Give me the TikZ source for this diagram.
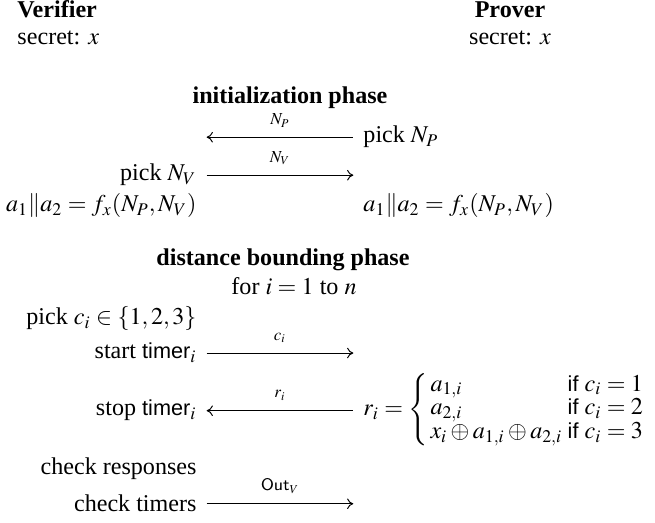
\documentclass[tikz,border=0pt]{standalone}
\usepackage{amsmath}
\usepackage{mathptmx}
\usepackage{fontspec}
\setmainfont{Liberation Serif}
\setsansfont{Liberation Sans}[Scale=0.9]
\usepackage{tikz}
\usetikzlibrary{arrows.meta, positioning, calc}
\tikzset{
  vtext/.style={anchor=base east, inner sep=0pt},
  ptext/.style={anchor=base west, inner sep=0pt},
  head/.style={anchor=base, inner sep=0pt, font=\bfseries},
  phase/.style={anchor=base, inner sep=0pt, font=\bfseries},
  msgR/.style={-{To[length=2.6pt,width=4.4pt]}, line width=0.4pt,
    shorten <=4pt, shorten >=4pt},
  msgL/.style={{To[length=2.6pt,width=4.4pt]}-, line width=0.4pt,
    shorten <=4pt, shorten >=4pt},
  msglbl/.style={midway, above=4pt, inner sep=0pt, font=\scriptsize}
}

\begin{document}
\begin{tikzpicture}[x=0.415pt, y=-0.415pt]
  \useasboundingbox (0,0) rectangle (655,523);

  % Columns
  \coordinate (vcol) at (197,0);
  \coordinate (pcol) at (363,0);

  % Parties
  \node[anchor=base west, inner sep=0pt, font=\bfseries] (ver) at (17,18) {Verifier};
  \node[anchor=base west, inner sep=0pt] (versec) at (17,45) {secret: $x$};
  \node[head] (prv) at (510,18) {Prover};
  \node[anchor=base, inner sep=0pt] (prvsec) at (510,45) {secret: $x$};

  % Initialization phase
  \node[phase] (init) at (290,104) {initialization phase};
  \node[ptext] (pickNP) at (363,143) {pick $N_P$};
  \draw[msgL] (pickNP.west -| vcol) -- (pickNP.west) node[msglbl] {$N_P$};
  \node[vtext] (pickNV) at (197,181) {pick $N_V$};
  \draw[msgR] (pickNV.east) -- (pickNV.east -| pcol) node[msglbl] {$N_V$};
  \node[vtext] (keyV) at (197,212) {$a_1\|a_2 = f_x(N_P,N_V)$};
  \node[ptext] (keyP) at (363,212) {$a_1\|a_2 = f_x(N_P,N_V)$};

  % Distance bounding phase
  \node[phase] (dist) at (283,266) {distance bounding phase};
  \node[anchor=base, inner sep=0pt] (loop) at (294,295) {for $i = 1$ to $n$};
  \node[vtext] (pickc) at (197,325) {pick $c_i \in \{1,2,3\}$};
  \node[vtext] (startT) at (197,359) {start~\textsf{timer}$_i$};
  \draw[msgR] (startT.east) -- (startT.east -| pcol) node[msglbl] {$c_i$};
  \node[vtext] (stopT) at (197,416) {stop~\textsf{timer}$_i$};
  \node[ptext] (resp) at (363,416) {$r_i = {\def\arraystretch{0.82}\left\{\begin{array}{@{\,}l@{\;}l@{}}
      a_{1,i} & \textsf{if } c_i = 1\\
      a_{2,i} & \textsf{if } c_i = 2\\
      x_i \oplus a_{1,i} \oplus a_{2,i} & \textsf{if } c_i = 3
    \end{array}\right.}$};
  \draw[msgL] (stopT.east) -- (stopT.east -| resp.west) node[msglbl] {$r_i$};

  % Verdict
  \node[vtext] (chkR) at (197,475) {check responses};
  \node[vtext] (chkT) at (197,512) {check timers};
  \draw[msgR] (chkT.east) -- (chkT.east -| pcol) node[msglbl] {$\mathsf{Out}_V$};
\end{tikzpicture}
\end{document}
